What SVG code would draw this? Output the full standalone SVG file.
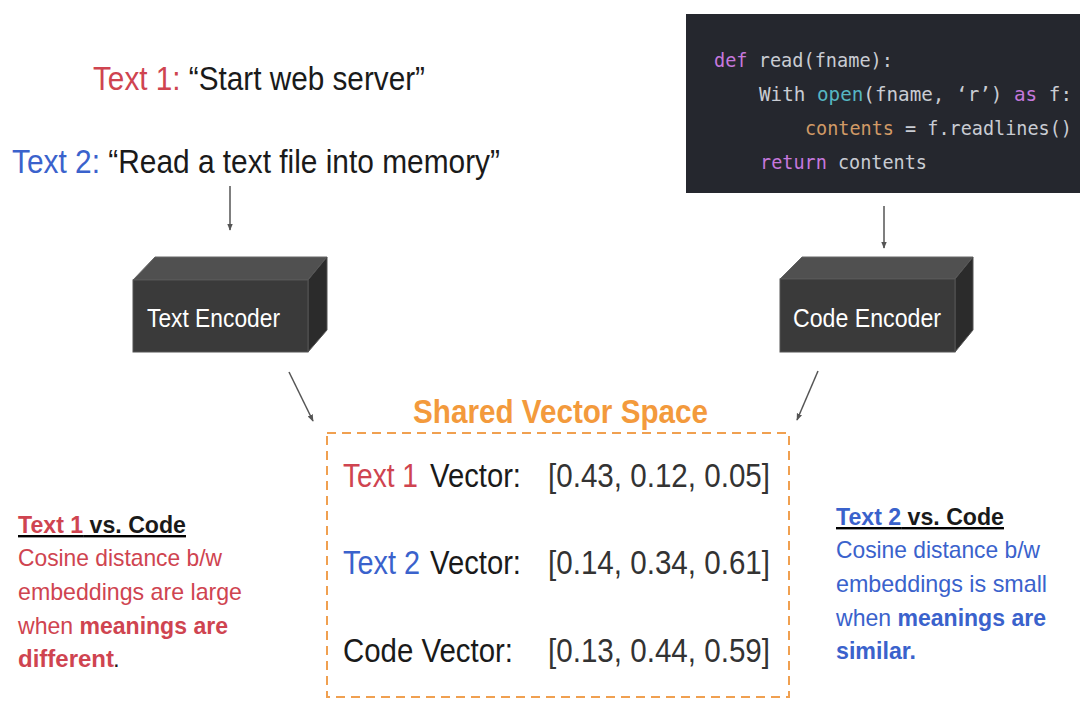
<svg xmlns="http://www.w3.org/2000/svg" width="1080" height="701" viewBox="0 0 1080 701">
<style>
.sans{font-family:"Liberation Sans",Arial,sans-serif}
.mono{font-family:"DejaVu Sans Mono","Liberation Mono",monospace;font-size:19px;fill:#c9ccd3}
.red{fill:#cf4450}
.blue{fill:#3a62cc}
.blk{fill:#1a1a1a}
.kw{fill:#c678dd}
.fn{fill:#56b6c2}
.var{fill:#d19a66}
.conn{stroke:#555;stroke-width:1.5;fill:none;marker-end:url(#ah)}
.front{fill:#3a3a3a;stroke:#555;stroke-width:1}
.top{fill:#505050;stroke:#666;stroke-width:1}
.side{fill:#2b2b2b;stroke:#555;stroke-width:1}
.enc{font-family:"Liberation Sans",Arial,sans-serif;font-size:26px;fill:#fff}
.vec{font-family:"Liberation Sans",Arial,sans-serif;font-size:34px}
.note{font-family:"Liberation Sans",Arial,sans-serif;font-size:24px}
</style>
<defs>
<marker id="ah" viewBox="0 0 10 10" refX="9" refY="5" markerWidth="7" markerHeight="7" orient="auto" markerUnits="userSpaceOnUse">
<path d="M0,1 L10,5 L0,9 Z" fill="#555"/>
</marker>
</defs>
<rect width="1080" height="701" fill="#fff"/>

<g id="text1">
<text class="sans" x="93" y="90" font-size="33" textLength="332" lengthAdjust="spacingAndGlyphs"><tspan class="red">Text 1:</tspan><tspan class="blk"> “Start web server”</tspan></text>
</g>
<g id="text2">
<text class="sans" x="12" y="173" font-size="33" textLength="488" lengthAdjust="spacingAndGlyphs"><tspan class="blue">Text 2:</tspan><tspan class="blk"> “Read a text file into memory”</tspan></text>
</g>

<g id="code">
<rect x="686" y="14" width="394" height="179" fill="#25272e"/>
<text class="mono" x="714" y="67" textLength="179" lengthAdjust="spacingAndGlyphs"><tspan class="kw">def</tspan> read(fname):</text>
<text class="mono" x="759" y="101" textLength="313" lengthAdjust="spacingAndGlyphs">With <tspan class="fn">open</tspan>(fname, ‘r’) <tspan class="kw">as</tspan> f:</text>
<text class="mono" x="805" y="135" textLength="267" lengthAdjust="spacingAndGlyphs"><tspan class="var">contents</tspan> = f.readlines()</text>
<text class="mono" x="760" y="169" textLength="167" lengthAdjust="spacingAndGlyphs"><tspan class="kw">return</tspan> contents</text>
</g>

<g id="text-encoder">
<polygon class="top" points="133,280 155,257 327,257 308,280"/>
<polygon class="side" points="308,280 327,257 327,330 308,352"/>
<rect class="front" x="133" y="280" width="175" height="72"/>
<text class="enc" x="147" y="327" textLength="133" lengthAdjust="spacingAndGlyphs">Text Encoder</text>
</g>

<g id="code-encoder">
<polygon class="top" points="780,279 802,257 973,257 955,279"/>
<polygon class="side" points="955,279 973,257 973,330 955,352"/>
<rect class="front" x="780" y="279" width="175" height="73"/>
<text class="enc" x="793" y="327" textLength="148" lengthAdjust="spacingAndGlyphs">Code Encoder</text>
</g>

<g id="shared-space">
<text class="sans" x="413" y="423" font-size="33" font-weight="bold" fill="#f39a3c" textLength="295" lengthAdjust="spacingAndGlyphs">Shared Vector Space</text>
<rect x="327" y="433" width="462" height="264" fill="none" stroke="#f0a050" stroke-width="2" stroke-dasharray="9,6"/>
<text class="vec red" x="343" y="487" textLength="75" lengthAdjust="spacingAndGlyphs">Text 1</text>
<text class="vec blk" x="430" y="487" textLength="91" lengthAdjust="spacingAndGlyphs">Vector:</text>
<text class="vec" x="548" y="487" fill="#333" textLength="222" lengthAdjust="spacingAndGlyphs">[0.43, 0.12, 0.05]</text>
<text class="vec blue" x="343" y="574" textLength="77" lengthAdjust="spacingAndGlyphs">Text 2</text>
<text class="vec blk" x="430" y="574" textLength="91" lengthAdjust="spacingAndGlyphs">Vector:</text>
<text class="vec" x="548" y="574" fill="#333" textLength="222" lengthAdjust="spacingAndGlyphs">[0.14, 0.34, 0.61]</text>
<text class="vec blk" x="343" y="662" textLength="170" lengthAdjust="spacingAndGlyphs">Code Vector:</text>
<text class="vec" x="548" y="662" fill="#333" textLength="222" lengthAdjust="spacingAndGlyphs">[0.13, 0.44, 0.59]</text>
</g>

<g id="note-left">
<text class="note" x="18" y="533" font-weight="bold" text-decoration="underline" textLength="168" lengthAdjust="spacingAndGlyphs"><tspan class="red">Text 1</tspan><tspan class="blk"> vs. Code</tspan></text>
<text class="note red" x="18" y="566" textLength="204" lengthAdjust="spacingAndGlyphs">Cosine distance b/w</text>
<text class="note red" x="18" y="600" textLength="224" lengthAdjust="spacingAndGlyphs">embeddings are large</text>
<text class="note red" x="18" y="634" textLength="210" lengthAdjust="spacingAndGlyphs">when <tspan font-weight="bold">meanings are</tspan></text>
<text class="note red" x="18" y="667" font-size="23" font-weight="bold">different</text>
<text class="note blk" x="113" y="667">.</text>
</g>

<g id="note-right">
<text class="note" x="836" y="525" font-weight="bold" text-decoration="underline" textLength="168" lengthAdjust="spacingAndGlyphs"><tspan class="blue">Text 2</tspan><tspan class="blk"> vs. Code</tspan></text>
<text class="note blue" x="836" y="558" textLength="204" lengthAdjust="spacingAndGlyphs">Cosine distance b/w</text>
<text class="note blue" x="836" y="592" textLength="211" lengthAdjust="spacingAndGlyphs">embeddings is small</text>
<text class="note blue" x="836" y="626" textLength="210" lengthAdjust="spacingAndGlyphs">when <tspan font-weight="bold">meanings are</tspan></text>
<text class="note blue" x="836" y="659" font-weight="bold" textLength="80" lengthAdjust="spacingAndGlyphs">similar.</text>
</g>

<g id="connectors">
<line class="conn" x1="230" y1="186" x2="230" y2="230"/>
<line class="conn" x1="884" y1="206" x2="884" y2="248"/>
<line class="conn" x1="289" y1="372" x2="313" y2="421"/>
<line class="conn" x1="818" y1="371" x2="797" y2="420"/>
</g>
</svg>
